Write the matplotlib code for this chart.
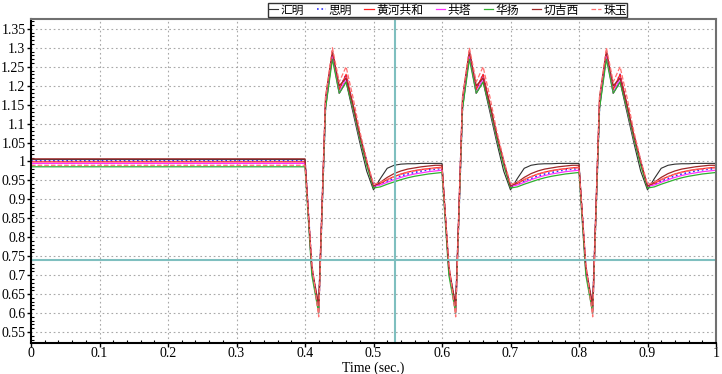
import numpy as np
import matplotlib
matplotlib.use("Agg")
import matplotlib.pyplot as plt
from matplotlib.ticker import MultipleLocator, FormatStrFormatter

plt.rcParams['font.family'] = ['Liberation Serif', 'DejaVu Serif']

# sample times (0.01 s steps) and fault events
t = np.arange(101) / 100.0
event_starts = [0.40, 0.60, 0.80]

names = ["汇明", "思明", "黄河共和", "共塔", "华扬", "切吉西", "珠玉"]

# steady value before the first fault
pre = [1.005, 1.002, 0.999, 0.995, 0.986, 1.007, 0.990]

# response after each fault, values at +0.01 ... +0.20 s
resp_huiming = [0.71, 0.62, 1.14, 1.28, 1.18, 1.21, 1.13, 1.05, 0.975, 0.925,
                0.955, 0.982, 0.990, 0.993, 0.994, 0.994, 0.995, 0.995, 0.995, 0.995]
resp_siming = [0.72, 0.61, 1.15, 1.29, 1.19, 1.23, 1.15, 1.07, 1.000, 0.935,
               0.940, 0.948, 0.955, 0.962, 0.967, 0.971, 0.975, 0.978, 0.980, 0.981]
resp_huanghe = [0.72, 0.605, 1.16, 1.29, 1.19, 1.23, 1.15, 1.07, 1.000, 0.935,
                0.942, 0.952, 0.960, 0.967, 0.972, 0.976, 0.979, 0.981, 0.983, 0.985]
resp_gongta = [0.71, 0.60, 1.15, 1.28, 1.18, 1.22, 1.14, 1.06, 0.995, 0.935,
               0.938, 0.945, 0.952, 0.958, 0.963, 0.967, 0.970, 0.973, 0.975, 0.977]
resp_huayang = [0.70, 0.60, 1.14, 1.27, 1.18, 1.21, 1.14, 1.06, 0.990, 0.930,
                0.933, 0.940, 0.946, 0.952, 0.957, 0.961, 0.964, 0.967, 0.969, 0.971]
resp_qiejixi = [0.72, 0.62, 1.17, 1.29, 1.20, 1.22, 1.15, 1.07, 1.000, 0.935,
                0.945, 0.958, 0.968, 0.975, 0.980, 0.983, 0.986, 0.988, 0.990, 0.990]
resp_zhuyu = [0.73, 0.59, 1.17, 1.30, 1.21, 1.25, 1.17, 1.08, 1.005, 0.940,
              0.945, 0.953, 0.960, 0.966, 0.971, 0.975, 0.978, 0.980, 0.982, 0.983]

responses = [resp_huiming, resp_siming, resp_huanghe, resp_gongta,
             resp_huayang, resp_qiejixi, resp_zhuyu]

colors = ["#303030", "#3030ff", "#ff2020", "#ff30ff", "#30b030", "#a02828", "#ff7070"]
styles = ["-", ":", "-", "-", "-", "-", "--"]
widths = [0.8, 1.2, 0.9, 0.9, 0.9, 0.9, 0.9]

fig = plt.figure(figsize=(7.22, 3.74), dpi=100)
ax = fig.add_axes([31 / 722, 1 - 343 / 374, 685 / 722, 324 / 374])

n_pre = int(round(event_starts[0] * 100)) + 1
for name, p, r, c, ls, lw in zip(names, pre, responses, colors, styles, widths):
    y = np.concatenate([np.full(n_pre, p)] + [np.array(r)] * len(event_starts))
    ax.plot(t, y[:len(t)], color=c, ls=ls, lw=lw, label=name)

# cursors
ax.axvline(0.532, color="#7fbfbf", lw=1.5)
ax.axhline(0.74, color="#7fbfbf", lw=1.5)

ax.set_xlim(0, 1)
ax.set_ylim(0.521, 1.376)
ax.xaxis.set_major_locator(MultipleLocator(0.1))
ax.xaxis.set_minor_locator(MultipleLocator(0.02))
ax.yaxis.set_major_locator(MultipleLocator(0.05))
ax.yaxis.set_minor_locator(MultipleLocator(0.01))
ax.xaxis.set_major_formatter(FormatStrFormatter('%g'))
ax.yaxis.set_major_formatter(FormatStrFormatter('%g'))
ax.tick_params(which='major', direction='out', length=3, width=1, labelsize=10, pad=1)
ax.tick_params(axis='x', which='major', pad=0)
ax.tick_params(which='minor', direction='in', length=2, width=0.8)
ax.grid(True, which='major', color="#a8a8a8", ls=(0, (1.5, 2.5)), lw=0.8)

for side in ["left", "bottom"]:
    ax.spines[side].set_linewidth(1.5)
    ax.spines[side].set_color("black")
for side in ["top", "right"]:
    ax.spines[side].set_linewidth(1.5)
    ax.spines[side].set_color("#707070")

ax.set_xlabel("Time (sec.)", fontsize=10, labelpad=0)
ax.xaxis.set_label_coords(0.5, -0.058)

leg = fig.legend(loc='upper left', bbox_to_anchor=(268 / 722, 1 - 3 / 374), ncol=7,
                 prop={'family': ['Noto Sans CJK SC', 'DejaVu Sans'], 'size': 8.5},
                 frameon=True, fancybox=False, edgecolor="black",
                 handlelength=0.8, handletextpad=0.2, columnspacing=1.07,
                 borderpad=0.05, borderaxespad=0)
leg.get_frame().set_linewidth(1.0)

fig.savefig("out.png", dpi=100)
